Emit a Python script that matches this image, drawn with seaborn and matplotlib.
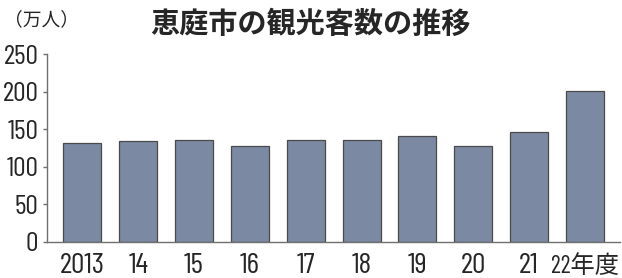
import matplotlib
matplotlib.use("Agg")
import matplotlib.pyplot as plt
import seaborn as sns
import pandas as pd

# 恵庭市の観光客数（万人）
years = ["2013", "14", "15", "16", "17", "18", "19", "20", "21", "22年度"]
visitors = [131, 134, 136, 127, 136, 136, 141, 127, 146, 201]
y_ticks = [0, 50, 100, 150, 200, 250]

df = pd.DataFrame({"year": years, "visitors": visitors})

sns.set_style("white")
plt.rcParams["font.family"] = ["Barlow Condensed", "Noto Sans CJK JP", "DejaVu Sans"]

fig = plt.figure(figsize=(6.22, 2.78), dpi=100)
ax = fig.add_axes([0.075, 0.1306, 0.922, 0.6744])

sns.barplot(data=df, x="year", y="visitors", color="#7b89a3", saturation=1,
            width=0.68, edgecolor="#4a4a4a", linewidth=0.9, ax=ax)

ax.set_xlim(-0.64, 9.63)
ax.set_ylim(0, 250)
ax.set_yticks(y_ticks)
ax.set_xlabel("")
ax.set_ylabel("")
sns.despine(ax=ax)
for s in ["left", "bottom"]:
    ax.spines[s].set_color("#707070")
    ax.spines[s].set_linewidth(1.0)

ax.tick_params(axis="y", length=3, width=1, color="#707070", pad=3, labelsize=20, left=True)
ax.tick_params(axis="x", length=0, pad=22.5, labelsize=21.5)
# ベースラインを揃える（最後のラベルは「年度」付きなので小さめ）
for lab in ax.get_xticklabels():
    lab.set_verticalalignment("baseline")
ax.get_xticklabels()[-1].set_fontsize(17.5)

fig.text(0.006, 0.93, "（万人）", fontsize=13.5, va="center", ha="left",
         family=["Noto Sans CJK JP"])
fig.text(0.499, 0.914, "恵庭市の観光客数の推移", fontsize=21, fontweight="bold",
         va="center", ha="center", family=["Noto Sans CJK JP"])

fig.savefig("out.png", dpi=100)
